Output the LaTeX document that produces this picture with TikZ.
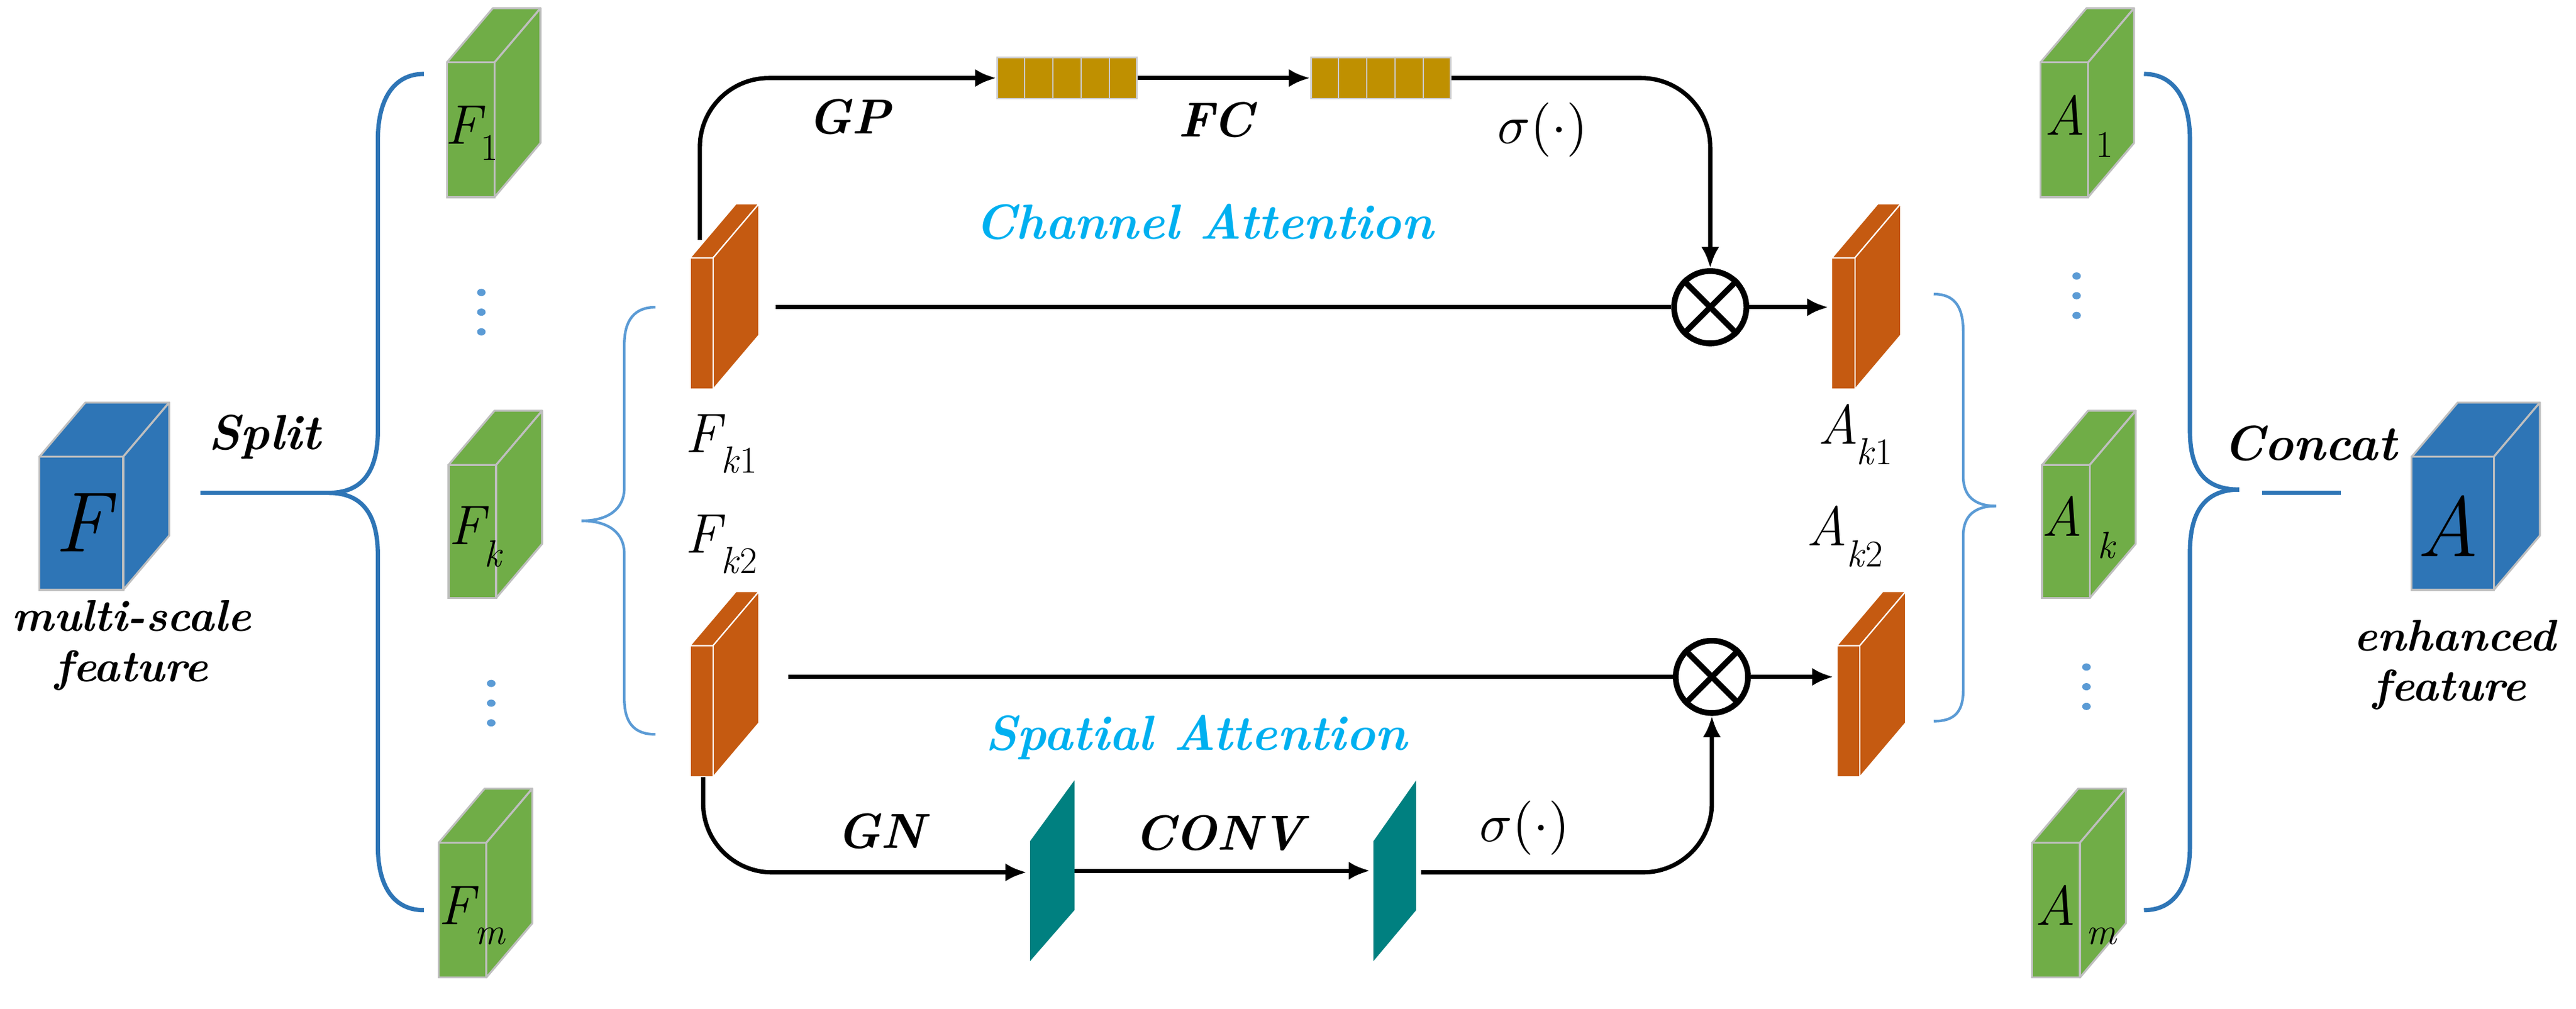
\documentclass[tikz,border=0pt]{standalone}
\usepackage{graphicx}
\usetikzlibrary{arrows.meta,calc}
\definecolor{cubeblue}{HTML}{2E75B6}
\definecolor{cubegreen}{HTML}{70AD47}
\definecolor{blkorange}{HTML}{C55A11}
\definecolor{gold}{HTML}{BF9000}
\definecolor{tealc}{HTML}{008080}
\definecolor{cyantext}{HTML}{00B0F0}
\definecolor{lightblue}{HTML}{5B9BD5}
\newcommand\mycube[6]{% name, x, y, w, h, colour
  \fill[#6,draw=gray!50,line width=1.2pt,line join=round] (#2,#3) -- ++(28,-33) -- ++(#4,0) -- ++(-28,33) -- cycle;
  \fill[#6,draw=gray!50,line width=1.2pt,line join=round] (#2+#4,#3) -- ++(28,-33) -- ++(0,#5) -- ++(-28,33) -- cycle;
  \fill[#6,draw=gray!50,line width=1.2pt] (#2,#3) rectangle ++(#4,#5);
  \coordinate (#1) at (#2+#4/2,#3+#5/2);}
\newcommand\myslab[3]{% name, x, y
  \fill[blkorange,draw=white,line width=0.8pt,line join=round] (#2,#3) -- ++(28,-33) -- ++(14,0) -- ++(-28,33) -- cycle;
  \fill[blkorange,draw=white,line width=0.8pt,line join=round] (#2+14,#3) -- ++(28,-33) -- ++(0,80) -- ++(-28,33) -- cycle;
  \fill[blkorange,draw=white,line width=0.8pt] (#2,#3) rectangle ++(14,80);
  \coordinate (#1) at (#2+7,#3+40);}
\newcommand\mydots[3]{% name x y
  \foreach \dd in {0,12,24}{\fill[lightblue] (#2,#3+\dd) ellipse (2.6 and 2.2);}
  \coordinate (#1) at (#2,#3+12);}
\newcommand\mysig{\scalebox{3.3}{$\sigma(\cdot)$}}
\tikzset{
  lbl/.style={font=\fontsize{30}{32}\selectfont\bfseries\itshape},
  att/.style={font=\fontsize{30}{34}\selectfont\bfseries\itshape,text=cyantext},
  sym/.style={font=\fontsize{34}{36}\selectfont\itshape},
  subs/.style={font=\fontsize{23}{24}\selectfont},
  subi/.style={font=\fontsize{23}{24}\selectfont\itshape},
  wide/.style={font=\fontsize{30}{34}\selectfont\bfseries\itshape},
  captxt/.style={font=\fontsize{27}{32}\selectfont\bfseries\itshape},
  big/.style={font=\fontsize{52}{52}\selectfont\itshape},
  flow/.style={line width=2.6pt,-{Latex[length=13pt,width=11pt]}},
  plain/.style={line width=2.6pt},
  brace/.style={cubeblue,line width=2.6pt},
  sbrace/.style={lightblue,line width=1.6pt},
  mult/.style={circle,draw,line width=3.5pt,minimum size=44pt,inner sep=0pt},
  gbox/.style={draw=gray!40,fill=gold,line width=1pt,minimum width=85pt,minimum height=25pt,inner sep=0pt},
}
\begin{document}
\begin{tikzpicture}[x=1pt,y=-1pt]
\useasboundingbox (0,0) rectangle (1568,614);
% left blue cube
\mycube{F}{24}{278}{51}{81}{cubeblue}
\node[big] (Ft) at (50,318) {F};
\node[captxt] (ms) at (80,375) {multi-scale};
\node[captxt] (mf) at (80,408) {feature};
\node[wide] (split) at (161,266) {Split};
% split brace
\draw[brace] (122,300) -- (200,300) .. controls (222,300) and (230,285) .. (230,262) -- (230,85) .. controls (230,60) and (240,45) .. (258,45);
\draw[brace] (200,300) .. controls (222,300) and (230,315) .. (230,338) -- (230,515) .. controls (230,540) and (240,554) .. (258,554);
% green cubes F
\mycube{F1}{272}{38}{29}{82}{cubegreen}
\mycube{Fk}{273}{283}{29}{81}{cubegreen}
\mycube{Fm}{267}{513}{29}{82}{cubegreen}
\node[sym] at (282,76) {F}; \node[subs] at (298,90) {1};
\node[sym] at (284,320) {F}; \node[subi] at (300,337) {k};
\node[sym] at (278,551) {F}; \node[subi] at (298,570) {m};
\mydots{d1}{293}{178}
\mydots{d2}{299}{416}
% small brace left
\draw[sbrace] (399,187) .. controls (386,187) and (380,195) .. (380,210) -- (380,297) .. controls (380,310) and (370,317) .. (354,317);
\draw[sbrace] (354,317) .. controls (370,317) and (380,324) .. (380,337) -- (380,425) .. controls (380,440) and (386,447) .. (399,447);
% orange slabs
\myslab{Fk1}{420}{157}
\myslab{Fk2}{420}{393}
\myslab{Ak1}{1115}{157}
\myslab{Ak2}{1118}{393}
\node[sym] at (428,264) {F}; \node[subs] at (450,280) {\textit{k}1};
\node[sym] at (428,325) {F}; \node[subs] at (450,341) {\textit{k}2};
\node[sym] at (1119,258) {A}; \node[subs] at (1141,275) {\textit{k}1};
\node[sym] at (1112,320) {A}; \node[subs] at (1135,337) {\textit{k}2};
% channel branch
\node[gbox] (g1) at (649.5,47.5) {};
\node[gbox] (g2) at (840.5,47.5) {};
\foreach \g in {g1,g2}{\foreach \i in {1,2,3,4}{\draw[gray!40,line width=1pt] ($(\g.west)!\i/5!(\g.east)+(0,-12.5)$) -- ++(0,25);}}
\node[mult] (c1) at (1041,187) {};
\node[mult] (c2) at (1042,412) {};
\foreach \c in {c1,c2}{\draw[line width=3.5pt] (\c.north west) -- (\c.south east) (\c.north east) -- (\c.south west);}
\coordinate (t0) at (426,146);
\coordinate (t1) at (472,187);
\coordinate (b0) at (428,473);
\coordinate (b1) at (480,412);
\draw[flow,rounded corners=42pt] (t0) |- (g1.west);
\draw[flow] (g1.east) -- (g2.west);
\draw[flow,rounded corners=42pt] (g2.east) -| (c1.north);
\draw[plain] (t1) -- (c1.west);
\draw[flow] (c1.east) -- (1113,187) coordinate (a1);
\draw[plain] (b1) -- (c2.west);
\draw[flow] (c2.east) -- (1116,412) coordinate (a2);
\node[lbl] at (517,71) {GP};
\node[lbl] at (740,73) {FC};
\node at (939,79) {\mysig};
\node[att] at (733,135) {Channel Attention};
\node[att] at (728,449) {Spatial Attention};
% spatial branch
\fill[tealc] (627,512) -- (654,475) -- (654,554) -- (627,585) -- cycle;
\coordinate (s1w) at (625,531); \coordinate (s1e) at (654,530);
\fill[tealc] (836,512) -- (862,475) -- (862,554) -- (836,585) -- cycle;
\coordinate (s2w) at (834,530); \coordinate (s2e) at (865,531);
\draw[flow,rounded corners=42pt] (b0) |- (s1w);
\draw[flow] (s1e) -- (s2w);
\draw[flow,rounded corners=42pt] (s2e) -| (c2.south);
\node[lbl] at (536,506) {GN};
\node[lbl] at (742,507) {CONV};
\node at (928,504) {\mysig};
% right small brace
\draw[sbrace] (1177,179) .. controls (1190,179) and (1195,187) .. (1195,202) -- (1195,290) .. controls (1195,302) and (1202,308) .. (1215,308);
\draw[sbrace] (1215,308) .. controls (1202,308) and (1195,314) .. (1195,326) -- (1195,420) .. controls (1195,433) and (1190,439) .. (1177,439);
% green cubes A
\mycube{A1}{1242}{38}{29}{82}{cubegreen}
\mycube{Ak}{1243}{283}{29}{81}{cubegreen}
\mycube{Am}{1237}{513}{29}{82}{cubegreen}
\node[sym] at (1257,70) {A}; \node[subs] at (1281,88) {1};
\node[sym] at (1255,314) {A}; \node[subi] at (1282,332) {k};
\node[sym] at (1251,551) {A}; \node[subi] at (1279,570) {m};
\mydots{d3}{1264}{168}
\mydots{d4}{1270}{406}
% big right brace
\draw[brace] (1305,45) .. controls (1323,45) and (1333,60) .. (1333,85) -- (1333,262) .. controls (1333,285) and (1341,298) .. (1363,298);
\draw[brace] (1363,298) .. controls (1341,298) and (1333,313) .. (1333,336) -- (1333,515) .. controls (1333,540) and (1323,554) .. (1305,554);
\draw[brace] (1377,300) -- (1425,300);
\node[wide] (concat) at (1406,270) {Concat};
% right blue cube
\mycube{A}{1468}{278}{50}{81}{cubeblue}
\node[big] (At) at (1490,320) {A};
\node[captxt] (en) at (1494,387) {enhanced};
\node[captxt] (ef) at (1491,420) {feature};
\end{tikzpicture}
\end{document}
